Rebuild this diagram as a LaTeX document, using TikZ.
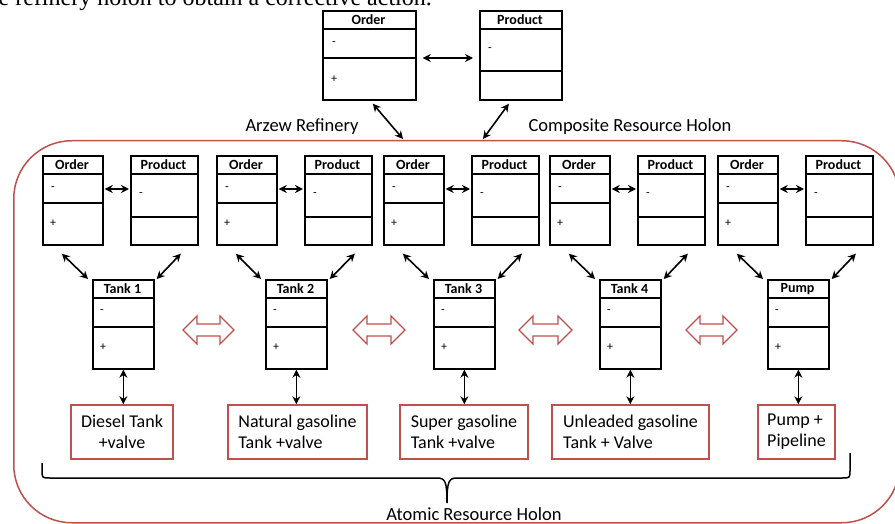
\documentclass[tikz,border=0pt]{standalone}
\usepackage{fontspec}
\setmainfont{Carlito}
\newfontfamily\serifx{Liberation Serif}
\usetikzlibrary{arrows.meta,calc}
\definecolor{hred}{RGB}{192,80,77}
\tikzset{
 clsbox/.style={draw=black, line width=1.7pt, inner sep=0pt, fill=white},
 clsline/.style={draw=black, line width=1.7pt},
 hdr/.style={font=\bfseries\fontsize{14}{16}\selectfont, inner sep=0pt},
 sym/.style={font=\fontsize{12}{13}\selectfont, inner sep=0pt, anchor=west},
 conn/.style={line width=1.6pt, {Stealth[length=8pt,width=8pt]}-{Stealth[length=8pt,width=8pt]}},
 lbl/.style={draw=hred, line width=1.5pt, minimum height=54pt, inner sep=0pt, font=\fontsize{18}{21}\selectfont},
 big/.style={font=\fontsize{18.5}{22}\selectfont, inner sep=0pt},
 holon/.style={draw=hred, line width=1.5pt, rounded corners=58pt, inner sep=0pt},
 dbl/.style={draw=hred, line width=1.3pt, fill=white},
 brace/.style={draw=black, line width=1.5pt},
}
\newcommand\umlcls[8]{%
  \node[clsbox, anchor=north west, minimum width={#3-#2}, minimum height={#7-#4}] (#1) at (#2,#4) {};
  \draw[clsline] (#2,#5) -- (#3,#5);
  \draw[clsline] (#2,#6) -- (#3,#6);
  \node[hdr] (#1-h) at ({(#2+#3)/2},{(#4+#5)/2+0.5}) {#8};
}
\newcommand\dblarr[3]{%
  \draw[dbl] (#1,#3) -- (#1+14,#3-14) -- (#1+14,#3-6) -- (#2-14,#3-6) -- (#2-14,#3-14) -- (#2,#3)
    -- (#2-14,#3+14) -- (#2-14,#3+6) -- (#1+14,#3+6) -- (#1+14,#3+14) -- cycle;
}
\begin{document}
\begin{tikzpicture}[x=1pt,y=-1pt]
\useasboundingbox (0,0) rectangle (895,524);
\clip (0,0) rectangle (895,524);
\fill[white] (0,0) rectangle (895,524);

% clipped caption line at the very top
\node[font=\serifx\fontsize{24}{27}\selectfont, anchor=base east, inner sep=0pt] (cap) at (432,6) {the refinery holon to obtain a corrective action.};

% composite holon frame
\node[holon, anchor=north west, minimum width=886pt, minimum height=382pt] (holon) at (13,140) {};

% top level Order / Product
\umlcls{tO}{322}{415}{10}{29}{58}{99}{Order}
\node[sym] at (332,44) {-};
\node[sym] at (331,79) {+};
\umlcls{tP}{479}{561}{10}{29}{71}{99}{Product}
\node[sym] at (488,50) {-};
\draw[conn] ([xshift=6pt]tO.east |- 0,58) -- ([xshift=-6pt]tP.west |- 0,58);
\coordinate (h1) at (403,139);
\coordinate (h2) at (483,139);
\draw[conn] ([xshift=3.5pt,yshift=-3pt]tO.south) -- (h1);
\draw[conn] ([xshift=-12pt,yshift=-3pt]tP.south) -- (h2);

\node[big] (arz) at (302,127) {Arzew Refinery};
\node[big] (crh) at (630,127) {Composite Resource Holon};

% groups
\foreach \i/\ox/\px/\tx/\tn in {1/42/130/92/Tank 1, 2/216/304/265/Tank 2, 3/383/471/433/Tank 3, 4/549/637/599/Tank 4, 5/717/805/767/Pump}{
  \umlcls{o\i}{\ox}{\ox+60}{155}{174}{203}{244}{Order}
  \node[sym] at (\ox+9,189) {-};
  \node[sym] at (\ox+8,223) {+};
  \umlcls{p\i}{\px}{\px+67}{155}{174}{217}{244}{Product}
  \node[sym] at (\px+9,195) {-};
  \umlcls{t\i}{\tx}{\tx+61}{279}{298}{327}{368}{\tn}
  \node[sym] at (\tx+8,312) {-};
  \node[sym] at (\tx+8,347) {+};
  \draw[conn] ([xshift=1pt]o\i.east |- 0,189) -- ([xshift=-1pt]p\i.west |- 0,189);
  \draw[conn] ([xshift=-11pt,yshift=-8pt]o\i.south) -- ([xshift=-4pt]t\i.north west);
  \draw[conn] ([xshift=16.5pt,yshift=-8pt]p\i.south) -- ([xshift=2pt]t\i.north east);
}

% horizontal red double arrows
\dblarr{183}{234}{330}
\dblarr{353}{405}{330}
\dblarr{519}{572}{330}
\dblarr{686}{737}{330}

% atomic resources
\node[lbl, minimum width=102pt, align=center] (l1) at (122,432) {Diesel Tank\\+valve};
\node[lbl, minimum width=139pt, align=left] (l2) at (297.5,432) {Natural gasoline\\Tank +valve};
\node[lbl, minimum width=128pt, align=left] (l3) at (464,432) {Super gasoline\\Tank +valve};
\node[lbl, minimum width=157pt, align=left] (l4) at (630.5,432) {Unleaded gasoline\\Tank + Valve};
\node[lbl, minimum width=77pt, align=left] (l5) at (796.5,432) {Pump +\\Pipeline};
\foreach \i in {1,...,5}{
  \draw[conn] (t\i.south) -- (l\i.north -| t\i.south);
}

% brace
\coordinate (bl) at (42,463);
\coordinate (bm) at (447,503);
\coordinate (br) at (850,453);
\draw[brace] (bl) -- (42,470) .. controls (42,478) .. (50,478) -- (437,478)
  .. controls (445,478) and (447,481) .. (bm)
  .. controls (447,481) and (449,478) .. (457,478) -- (842,478)
  .. controls (850,478) .. (850,470) -- (br);
\node[big] (arh) at (474,514) {Atomic Resource Holon};
\end{tikzpicture}
\end{document}
